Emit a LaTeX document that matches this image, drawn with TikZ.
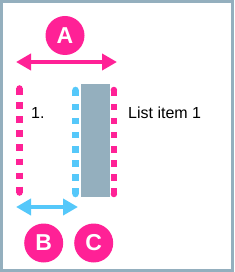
\documentclass[tikz,border=0pt]{standalone}
\usepackage{fontspec}
\setmainfont{Liberation Sans}
\usetikzlibrary{arrows.meta,calc,positioning}
\definecolor{markpink}{HTML}{FF2196}
\definecolor{gapblue}{HTML}{55C8FA}
\definecolor{bargray}{HTML}{94AFBE}
\def\dotlinewidth{6.5pt}
\def\dotlinelength{104}
\def\markradius{19.5pt}

\begin{document}
\begin{tikzpicture}[x=1pt,y=-1pt,
  dotline/.style={line width=\dotlinewidth, dash pattern=on 6.5pt off 7.5pt},
  markdisc/.style={circle, fill=markpink, minimum size=2*\markradius, inner sep=0pt,
    text=white, font=\fontsize{23}{27}\selectfont\bfseries},
  spanarrow/.style={line width=4pt, {Triangle[length=15pt,width=16pt]}-{Triangle[length=15pt,width=16pt]}},
  itemlabel/.style={anchor=base west, inner sep=0pt, font=\fontsize{16}{19}\selectfont}
]
  \useasboundingbox (0,0) rectangle (234,272);
  \draw[bargray, line width=2.7pt] (1.35,1.35) rectangle (232.3,270.65);

  \node[fill=bargray, minimum width=29pt, minimum height=113pt, inner sep=0pt,
    anchor=north west] (bar) at (81,84) {};

  \coordinate (DLAS) at (19.5,88.5);
  \coordinate (DLAE) at ($ (DLAS) + (0,\dotlinelength) $);
  \coordinate (DLBS) at ($ (bar.north west) + (-5.5,6) $);
  \coordinate (DLBE) at ($ (DLBS) + (0,\dotlinelength) $);
  \coordinate (DLCS) at ($ (bar.north east) + (3.5,6) $);
  \coordinate (DLCE) at ($ (DLCS) + (0,\dotlinelength) $);

  \draw[dotline, markpink] (DLAS) -- (DLAE);
  \draw[dotline, gapblue] (DLBS) -- (DLBE);
  \draw[dotline, markpink] (DLCS) -- (DLCE);
  \fill[markpink] (DLAS) circle (3.25) (DLAE) circle (3.25);
  \fill[gapblue] (DLBS) circle (3.25) (DLBE) circle (3.25);
  \fill[markpink] (DLCS) circle (3.25) (DLCE) circle (3.25);

  \node[itemlabel] (num) at (31,119) {1.};
  \node[itemlabel] (item) at (128,119) {List item 1};

  \coordinate (SpanAL) at (16,62);
  \coordinate (SpanAR) at (117,62);
  \coordinate (SpanBL) at (16,207);
  \coordinate (SpanBR) at (78,207);
  \draw[spanarrow, markpink] (SpanAL) -- (SpanAR);
  \draw[spanarrow, gapblue] (SpanBL) -- (SpanBR);

  \node[markdisc] (markA) at (65,35.5) {A};
  \node[markdisc] (markB) at (43.7,243) {B};
  \node[markdisc] (markC) at (93.7,243) {C};
\end{tikzpicture}
\end{document}
